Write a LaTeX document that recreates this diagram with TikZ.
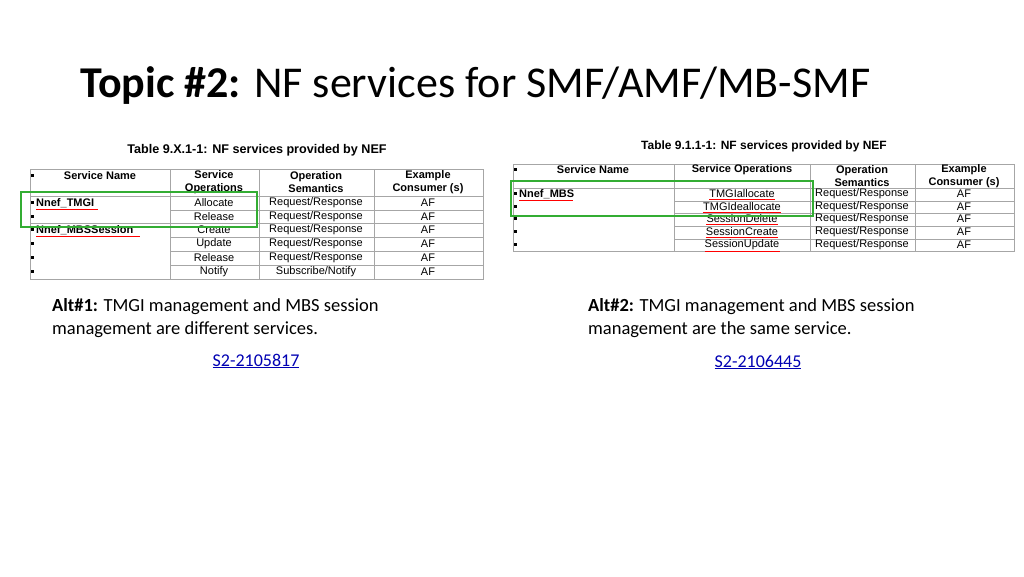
\documentclass[tikz,border=0pt]{standalone}
\usepackage{fontspec}
\setmainfont{Carlito}
\newfontfamily\arial{Liberation Sans}
\begin{document}
\begin{tikzpicture}[x=1pt,y=-1pt,
  cell/.style={font=\arial\fontsize{11}{12}\selectfont,inner sep=0pt,anchor=center},
  hd/.style={cell,font=\arial\bfseries\fontsize{11}{13}\selectfont,align=center},
  grid/.style={draw=gray!70,line width=0.6pt},
  gbox/.style={draw=green!60!black!80,line width=1.6pt},
  alt/.style={font=\fontsize{18.5}{22}\selectfont,anchor=west,inner sep=0pt},
  lnk/.style={font=\fontsize{18}{22}\selectfont,text=blue!70!black,inner sep=0pt}]
\useasboundingbox (0,0) rectangle (1024,576);
\node[anchor=west,inner sep=0pt,font=\fontsize{44}{48}\selectfont] (title) at (80,86) {\textbf{Topic \#2:} NF services for SMF/AMF/MB-SMF};
% left table
\node[hd,font=\arial\bfseries\fontsize{12.6}{14}\selectfont] (lt) at (257,150) {Table 9.X.1-1: NF services provided by NEF};
\draw[grid] (30,169) rectangle (483,279);
\foreach \x in {170,259,374} \draw[grid] (\x,169) -- (\x,279);
\draw[grid] (30,196) -- (483,196);
\draw[grid] (30,223) -- (483,223);
\foreach \y in {210,237,251,265} \draw[grid] (170,\y) -- (483,\y);
\foreach \y in {176,203,217,230,244,258,272} \fill (31,\y-2) rectangle +(3,3);
\node[hd] (l1) at (100,176) {Service Name};
\node[hd] (l2) at (214,182) {Service\\Operations};
\node[hd] (l3) at (316,182) {Operation\\Semantics};
\node[hd] (l4) at (428,182) {Example\\Consumer (s)};
\node[cell,font=\arial\bfseries\fontsize{11}{12}\selectfont,anchor=west] (n1) at (36,203) {Nnef\_TMGI};
\node[cell,font=\arial\bfseries\fontsize{11}{12}\selectfont,anchor=west] (n2) at (36,230) {Nnef\_MBSSession};
\draw[red,line width=0.5pt] (36,209.5) -- (98,209.5) (36,236.5) -- (140,236.5);
\foreach \y/\a/\b in {203/Allocate/Request\slash Response,217/Release/Request\slash Response,230/Create/Request\slash Response,244/Update/Request\slash Response,258/Release/Request\slash Response,272/Notify/Subscribe\slash Notify}{
  \node[cell] at (214,\y) {\a};
  \node[cell] at (316,\y) {\b};
  \node[cell] at (428,\y) {AF};
}
\draw[gbox] (21,192) rectangle (257,227);
% right table
\node[hd,font=\arial\bfseries\fontsize{12}{14}\selectfont] (rt) at (764,146) {Table 9.1.1-1: NF services provided by NEF};
\draw[grid] (513,164) rectangle (1014,251);
\foreach \x in {674,810,915} \draw[grid] (\x,164) -- (\x,251);
\draw[grid] (513,188) -- (1014,188);
\foreach \y in {201,213,226,239} \draw[grid] (674,\y) -- (1014,\y);
\foreach \y in {170,194,207,219,232,245} \fill (514,\y-2) rectangle +(3,3);
\node[hd] (r1) at (593,170) {Service Name};
\node[hd] (r2) at (742,170) {Service Operations};
\node[hd] (r3) at (862,176) {Operation\\Semantics};
\node[hd] (r4) at (964,176) {Example\\Consumer (s)};
\node[cell,font=\arial\bfseries\fontsize{11}{12}\selectfont,anchor=west] (m1) at (519,194) {Nnef\_MBS};
\draw[red,line width=0.5pt] (519,200) -- (573,200);
\foreach \y/\a in {194/TMGIallocate,207/TMGIdeallocate,219/SessionDelete,232/SessionCreate,245/SessionUpdate}{
  \node[cell] (o) at (742,\y) {\a};
  \draw[red,line width=0.5pt] ([yshift=-1pt]o.south west) -- ([yshift=-1pt]o.south east);
  \node[cell] at (862,\y) {Request/Response};
  \node[cell] at (964,\y) {AF};
}
\draw[gbox] (511,181) rectangle (813,216);
% alt texts
\node[alt] (a1) at (52,307) {\textbf{Alt\#1:} TMGI management and MBS session};
\node[alt] (a1b) at (52,330) {management are different services.};
\node[lnk] (k1) at (256,361) {\underline{S2-2105817}};
\node[alt] (a2) at (588,307) {\textbf{Alt\#2:} TMGI management and MBS session};
\node[alt] (a2b) at (588,330) {management are the same service.};
\node[lnk] (k2) at (758,362) {\underline{S2-2106445}};
\end{tikzpicture}
\end{document}
